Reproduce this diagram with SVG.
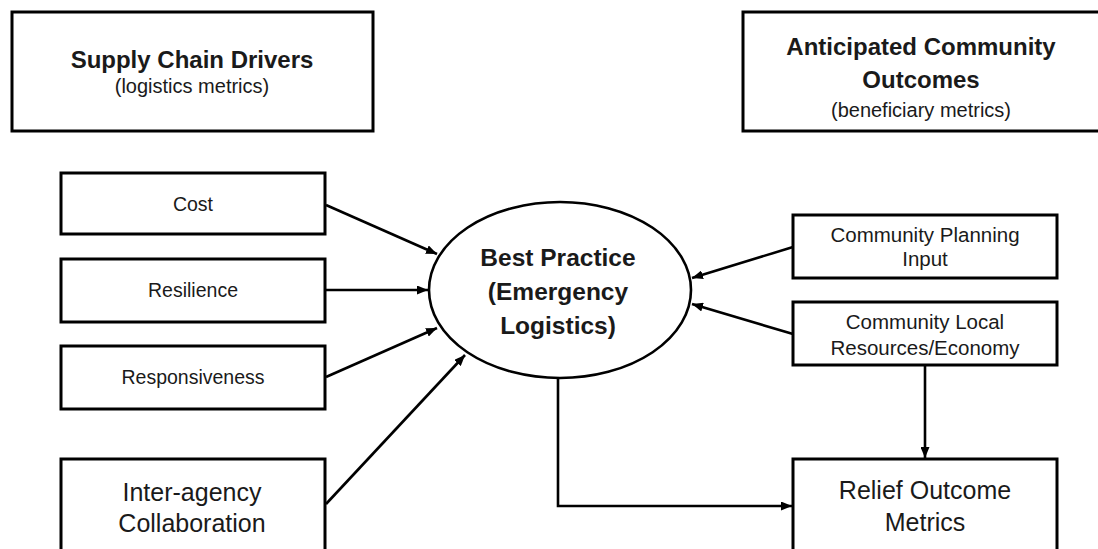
<svg xmlns="http://www.w3.org/2000/svg" width="1098" height="549" viewBox="0 0 1098 549">
  <style>
    .box { fill: #ffffff; stroke: #000000; stroke-width: 3; }
    .oval { fill: #ffffff; stroke: #000000; stroke-width: 2.6; }
    .edge { fill: none; stroke: #000000; stroke-width: 2.6; marker-end: url(#arrow); }
    text { font-family: "Liberation Sans", Arial, sans-serif; fill: #1a1a1a; text-anchor: middle; }
    .title { font-size: 24px; font-weight: bold; }
    .sub { font-size: 20px; }
    .small { font-size: 19.5px; }
    .right { font-size: 20.5px; }
    .large { font-size: 25px; }
    .center { font-size: 24.5px; font-weight: bold; }
  </style>
  <defs>
    <marker id="arrow" markerUnits="userSpaceOnUse" markerWidth="11" markerHeight="9" refX="11" refY="4.5" orient="auto">
      <path d="M0,0 L11,4.5 L0,9 z" fill="#000000"/>
    </marker>
  </defs>
  <rect width="1098" height="549" fill="#ffffff"/>

  <!-- connectors -->
  <g id="connectors">
    <line class="edge" x1="326" y1="205" x2="437" y2="254"/>
    <line class="edge" x1="326" y1="290" x2="428" y2="290"/>
    <line class="edge" x1="326" y1="377" x2="437" y2="328"/>
    <line class="edge" x1="326" y1="504" x2="465" y2="355"/>
    <line class="edge" x1="793" y1="247" x2="692" y2="278"/>
    <line class="edge" x1="793" y1="334" x2="692" y2="304"/>
    <line class="edge" x1="925" y1="365" x2="925" y2="458"/>
    <polyline class="edge" points="558,378 558,506 792,506"/>
  </g>

  <!-- header boxes -->
  <g id="supply-chain-drivers">
    <rect class="box" x="12" y="12" width="361" height="119"/>
    <text class="title" x="192" y="68">Supply Chain Drivers</text>
    <text class="sub" x="192" y="93">(logistics metrics)</text>
  </g>
  <g id="community-outcomes">
    <rect class="box" x="743" y="12" width="370" height="119"/>
    <text class="title" x="921" y="55">Anticipated Community</text>
    <text class="title" x="921" y="88">Outcomes</text>
    <text class="sub" x="921" y="117">(beneficiary metrics)</text>
  </g>

  <!-- driver boxes -->
  <g id="cost">
    <rect class="box" x="61" y="173" width="264" height="61"/>
    <text class="small" x="193" y="211">Cost</text>
  </g>
  <g id="resilience">
    <rect class="box" x="61" y="259" width="264" height="63"/>
    <text class="small" x="193" y="297">Resilience</text>
  </g>
  <g id="responsiveness">
    <rect class="box" x="61" y="346" width="264" height="63"/>
    <text class="small" x="193" y="384">Responsiveness</text>
  </g>
  <g id="inter-agency">
    <rect class="box" x="61" y="459" width="264" height="110"/>
    <text class="large" x="192" y="501">Inter-agency</text>
    <text class="large" x="192" y="532">Collaboration</text>
  </g>

  <!-- central practice -->
  <g id="best-practice">
    <ellipse class="oval" cx="560" cy="290" rx="131" ry="88"/>
    <text class="center" x="558" y="266">Best Practice</text>
    <text class="center" x="558" y="300">(Emergency</text>
    <text class="center" x="558" y="334">Logistics)</text>
  </g>

  <!-- community boxes -->
  <g id="community-planning">
    <rect class="box" x="793" y="215" width="264" height="63"/>
    <text class="right" x="925" y="242">Community Planning</text>
    <text class="right" x="925" y="266">Input</text>
  </g>
  <g id="community-local">
    <rect class="box" x="793" y="302" width="264" height="63"/>
    <text class="right" x="925" y="329">Community Local</text>
    <text class="right" x="925" y="355">Resources/Economy</text>
  </g>
  <g id="relief-outcome">
    <rect class="box" x="793" y="459" width="264" height="110"/>
    <text class="large" x="925" y="499">Relief Outcome</text>
    <text class="large" x="925" y="531">Metrics</text>
  </g>
</svg>
